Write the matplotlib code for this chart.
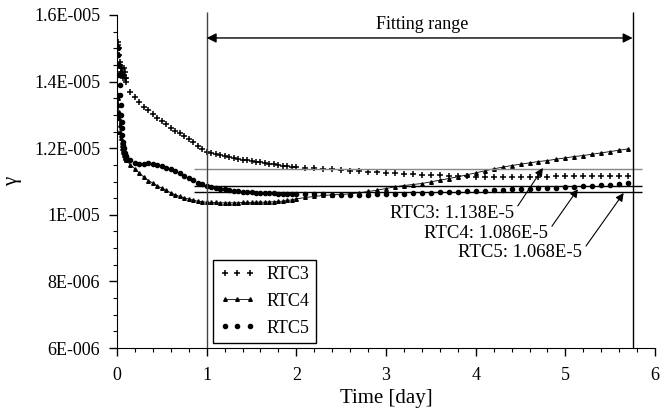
"""plot.py - gamma vs time for RTC3/4/5"""

import matplotlib
matplotlib.use("Agg")
import matplotlib.pyplot as plt
from matplotlib.ticker import MultipleLocator, FixedLocator

plt.rcParams['font.family'] = ['Liberation Serif', 'DejaVu Serif']

# time in days
t = [0.000, 0.005, 0.010, 0.015, 0.020, 0.025, 0.030, 0.035, 0.040, 0.045,
     0.050, 0.055, 0.060, 0.065, 0.070, 0.075, 0.080, 0.085, 0.090, 0.095, 0.10,
     0.15, 0.20, 0.25, 0.30, 0.35, 0.40, 0.45, 0.50, 0.55, 0.60,
     0.65, 0.70, 0.75, 0.80, 0.85, 0.90, 0.95, 1.00,
     1.05, 1.10, 1.15, 1.20, 1.25, 1.30, 1.35, 1.40, 1.45, 1.50,
     1.55, 1.60, 1.65, 1.70, 1.75, 1.80, 1.85, 1.90, 1.95, 2.00,
     2.1, 2.2, 2.3, 2.4, 2.5, 2.6, 2.7, 2.8, 2.9, 3.0,
     3.1, 3.2, 3.3, 3.4, 3.5, 3.6, 3.7, 3.8, 3.9, 4.0,
     4.1, 4.2, 4.3, 4.4, 4.5, 4.6, 4.7, 4.8, 4.9, 5.0,
     5.1, 5.2, 5.3, 5.4, 5.5, 5.6, 5.7]

# gamma values in units of 1E-5
rtc3 = [1.42, 1.48, 1.52, 1.51, 1.50, 1.48, 1.46, 1.45, 1.44, 1.43,
        1.42, 1.44, 1.43, 1.41, 1.42, 1.44, 1.42, 1.41, 1.43, 1.41, 1.40,
        1.370, 1.355, 1.340, 1.325, 1.315, 1.303, 1.292, 1.282, 1.272, 1.262,
        1.253, 1.245, 1.236, 1.227, 1.218, 1.208, 1.197, 1.190,
        1.186, 1.183, 1.180, 1.177, 1.174, 1.171, 1.168, 1.166, 1.164, 1.162,
        1.160, 1.158, 1.156, 1.154, 1.152, 1.150, 1.148, 1.147, 1.145, 1.144,
        1.142, 1.140, 1.138, 1.137, 1.135, 1.133, 1.131, 1.130, 1.128, 1.127,
        1.125, 1.124, 1.122, 1.121, 1.120, 1.119, 1.118, 1.117, 1.116, 1.115,
        1.115, 1.114, 1.114, 1.114, 1.114, 1.115, 1.115, 1.115, 1.116, 1.116,
        1.116, 1.116, 1.117, 1.117, 1.117, 1.117, 1.118]

rtc4 = [1.25, 1.30, 1.35, 1.33, 1.31, 1.29, 1.27, 1.25, 1.24, 1.23,
        1.22, 1.21, 1.20, 1.195, 1.19, 1.185, 1.18, 1.175, 1.17, 1.168, 1.165,
        1.150, 1.138, 1.125, 1.113, 1.103, 1.095, 1.087, 1.080, 1.073, 1.066,
        1.060, 1.055, 1.051, 1.047, 1.044, 1.041, 1.039, 1.038,
        1.037, 1.037, 1.036, 1.036, 1.036, 1.036, 1.036, 1.037, 1.037, 1.037,
        1.038, 1.038, 1.038, 1.039, 1.039, 1.040, 1.041, 1.043, 1.045, 1.048,
        1.052, 1.055, 1.058, 1.060, 1.061, 1.063, 1.066, 1.070, 1.074, 1.079,
        1.084, 1.088, 1.091, 1.094, 1.099, 1.104, 1.109, 1.114, 1.120, 1.126,
        1.132, 1.138, 1.143, 1.148, 1.152, 1.156, 1.160, 1.163, 1.167, 1.171,
        1.175, 1.178, 1.182, 1.186, 1.190, 1.194, 1.198]

rtc5 = [1.36, 1.45, 1.50, 1.48, 1.45, 1.42, 1.39, 1.36, 1.33, 1.30,
        1.28, 1.26, 1.24, 1.22, 1.21, 1.20, 1.19, 1.185, 1.18, 1.178, 1.175,
        1.165, 1.157, 1.152, 1.153, 1.156, 1.154, 1.150, 1.147, 1.142, 1.137,
        1.131, 1.125, 1.118, 1.111, 1.104, 1.097, 1.092, 1.088,
        1.084, 1.081, 1.078, 1.076, 1.074, 1.072, 1.070, 1.069, 1.068, 1.067,
        1.066, 1.065, 1.065, 1.064, 1.064, 1.063, 1.063, 1.062, 1.062, 1.062,
        1.061, 1.061, 1.061, 1.060, 1.060, 1.060, 1.060, 1.060, 1.061, 1.061,
        1.062, 1.063, 1.064, 1.065, 1.066, 1.067, 1.068, 1.069, 1.070, 1.071,
        1.072, 1.073, 1.074, 1.076, 1.077, 1.078, 1.080, 1.081, 1.082, 1.084,
        1.085, 1.087, 1.088, 1.090, 1.091, 1.093, 1.095]

fit_labels = ["RTC3: 1.138E-5", "RTC4: 1.086E-5", "RTC5: 1.068E-5"]
fit_values = [1.138e-5, 1.086e-5, 1.068e-5]
fit_start, fit_end = 1.0, 5.75

y_ticks = [6e-6, 8e-6, 1e-5, 1.2e-5, 1.4e-5, 1.6e-5]
y_ticklabels = ["6E-006", "8E-006", "1E-005", "1.2E-005", "1.4E-005", "1.6E-005"]

fig = plt.figure(figsize=(6.63, 4.12), dpi=100)
ax = fig.add_axes([0.1765, 0.1553, 0.8115, 0.8083])

ax.plot(t, [v * 1e-5 for v in rtc3], linestyle='none', marker='+', ms=4.5,
        mew=1.1, color='black', label='RTC3')
ax.plot(t, [v * 1e-5 for v in rtc4], linestyle='-', lw=0.6, marker='^', ms=2.6,
        color='black', label='RTC4')
ax.plot(t, [v * 1e-5 for v in rtc5], linestyle='none', marker='o', ms=3.0,
        color='black', label='RTC5')

# fitted constant lines
fit_colors = ['#888888', 'black', 'black']
for val, col in zip(fit_values, fit_colors):
    ax.hlines(val, 0.86, 5.85, colors=col, lw=1, clip_on=False)

# fitting range bounds
ax.vlines(fit_start, 6e-6, 1.61e-5, colors='#444444', lw=1, clip_on=False)
ax.vlines(fit_end, 6e-6, 1.61e-5, colors='black', lw=1, clip_on=False)
ax.annotate('', xy=(fit_end, 1.531e-5), xytext=(fit_start, 1.531e-5),
            arrowprops=dict(arrowstyle='<|-|>', color='black', lw=1,
                            mutation_scale=14, shrinkA=0, shrinkB=0))
ax.text(3.4, 1.545e-5, 'Fitting range', ha='center', va='bottom', fontsize=13)

# labels for fitted values
label_pos = [(4.43, 1.0054e-5), (4.81, 0.9453e-5), (5.19, 0.886e-5)]
tip_pos = [(4.75, 1.1405e-5), (5.14, 1.077e-5), (5.65, 1.0655e-5)]
for txt, lp, tp in zip(fit_labels, label_pos, tip_pos):
    ax.annotate(txt, xy=tp, xytext=lp, ha='right', va='center', fontsize=13.5,
                arrowprops=dict(arrowstyle='-|>', color='black', lw=0.8,
                                mutation_scale=12, shrinkA=1, shrinkB=0,
                                relpos=(1.0, 0.6)))

ax.set_xlim(0, 6)
ax.set_ylim(6e-6, 1.6e-5)
ax.yaxis.set_major_locator(FixedLocator(y_ticks))
ax.set_yticklabels(y_ticklabels)
ax.xaxis.set_major_locator(MultipleLocator(1))
ax.xaxis.set_minor_locator(MultipleLocator(0.2))
ax.yaxis.set_minor_locator(MultipleLocator(5e-7))
ax.tick_params(which='major', direction='out', length=6, width=1, labelsize=13)
ax.tick_params(which='minor', direction='out', length=3, width=0.8)
ax.tick_params(axis='x', pad=8)
ax.tick_params(axis='y', pad=6)

for side in ['top', 'right']:
    ax.spines[side].set_visible(False)

ax.set_xlabel('Time [day]', fontsize=15, labelpad=3)
ax.set_ylabel('γ', fontsize=15, labelpad=9)

leg = ax.legend(loc='lower left', bbox_to_anchor=(0.1785, 0.015), numpoints=3,
                fontsize=13, fancybox=False, edgecolor='black',
                borderaxespad=0, handlelength=2.0, handletextpad=0.6,
                borderpad=0.35, labelspacing=0.55, framealpha=1)
leg.get_frame().set_linewidth(1)

fig.savefig('out.png', dpi=100)
